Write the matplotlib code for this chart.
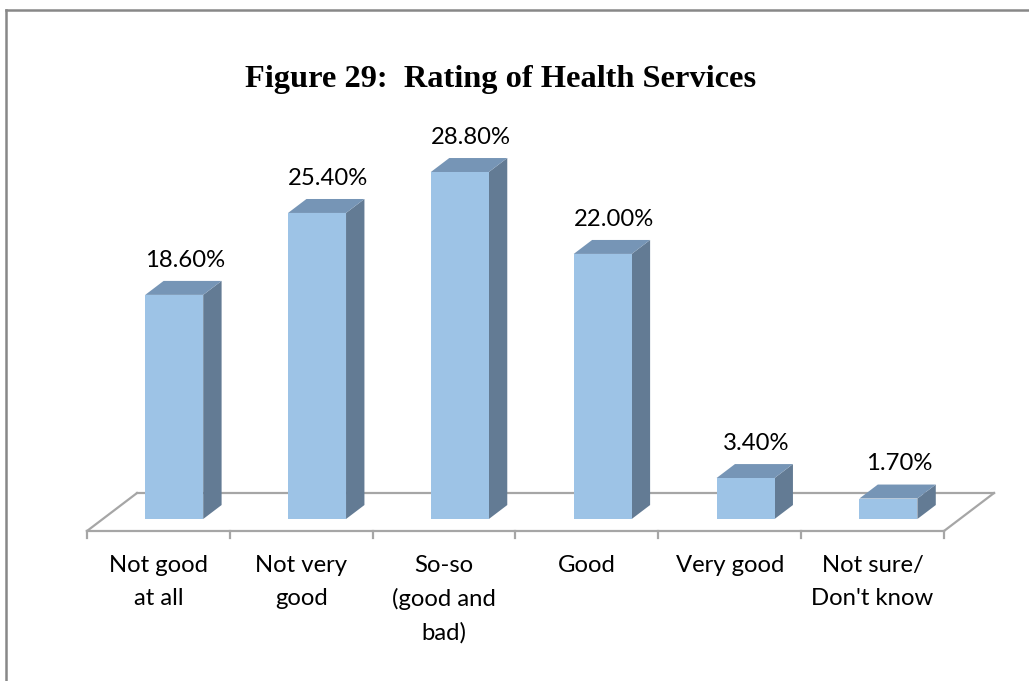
#Figure 29: Rating of Health Services
#3D style column chart drawn with flat matplotlib patches

import matplotlib.pyplot as plt                 #import lib matplotlib to graph
from matplotlib.patches import Polygon          #polygons for the bar faces
from matplotlib.lines import Line2D             #lines for the chart border

#Data
categories = ["Not good\nat all", "Not very\ngood", "So-so\n(good and\nbad)",
              "Good", "Very good", "Not sure/\nDon't know"]
values = [18.6, 25.4, 28.8, 22.0, 3.4, 1.7]     #percent
value_labels = ["18.60%", "25.40%", "28.80%", "22.00%", "3.40%", "1.70%"]
title = "Figure 29:  Rating of Health Services"

#Colours
front_col = "#9dc3e6"
top_col = "#7695b6"
side_col = "#637b94"
floor_col = "#a6a6a6"

#Geometry of the fake 3D view (in data units)
DX = 0.35       #horizontal shift of full floor depth (categories)
DY = 3.15       #vertical shift of full floor depth (percent)
zf = 0.316      #depth of bar front face
zb = 0.684      #depth of bar back face
w = 0.406       #bar width

fig = plt.figure(figsize=(10.29, 6.81), dpi=100)
ax = fig.add_axes([0, 0, 1, 1])
ax.set_xlim(-0.609, 6.595)
ax.set_ylim(-12.45, 44.07)
ax.axis("off")

n = len(values)

#Floor outline
ax.plot([0, n], [0, 0], color=floor_col, lw=1.6, zorder=1)
ax.plot([DX, n + DX], [DY, DY], color=floor_col, lw=1.6, zorder=1)
ax.plot([0, DX], [0, DY], color=floor_col, lw=1.6, zorder=1)
ax.plot([n, n + DX], [0, DY], color=floor_col, lw=1.6, zorder=1)

#Tick marks under the front edge
for i in range(n + 1):
    ax.plot([i, i], [0, -0.6], color=floor_col, lw=1.6, zorder=1)

#Bars
for i, v in enumerate(values):
    x0 = i + 0.5 - w / 2 + zf * DX     #front left corner
    y0 = zf * DY                        #front bottom
    sx = (zb - zf) * DX                 #depth shift x
    sy = (zb - zf) * DY                 #depth shift y
    front = Polygon([(x0, y0), (x0 + w, y0), (x0 + w, y0 + v), (x0, y0 + v)],
                    closed=True, fc=front_col, ec="none", zorder=3)
    side = Polygon([(x0 + w, y0), (x0 + w + sx, y0 + sy), (x0 + w + sx, y0 + sy + v),
                    (x0 + w, y0 + v)], closed=True, fc=side_col, ec="none", zorder=3)
    top = Polygon([(x0, y0 + v), (x0 + w, y0 + v), (x0 + w + sx, y0 + sy + v),
                   (x0 + sx, y0 + sy + v)], closed=True, fc=top_col, ec="none", zorder=3)
    ax.add_patch(side)
    ax.add_patch(top)
    ax.add_patch(front)
    #value label above the top face
    ax.annotate(value_labels[i], (x0 + w / 2 + 0.6 * sx, y0 + sy + v),
                xytext=(0, 7.5), textcoords="offset points",
                ha="center", va="bottom", fontsize=17.2, family="Lato", zorder=4)

#Category labels
for i, c in enumerate(categories):
    ax.annotate(c, (i + 0.5, 0), xytext=(0, -17.5), textcoords="offset points",
                ha="center", va="top", fontsize=17.2, family="Lato",
                linespacing=1.66)

#Title
fig.text(501 / 1029, 1 - 87 / 681, title, ha="center", va="baseline",
         fontsize=23.3, fontweight="bold", family="Liberation Serif")

#Chart border (top and left only, rest is cropped)
fig.add_artist(Line2D([6 / 1029, 6 / 1029], [0, 1 - 10 / 681], color="#888888", lw=1.8))
fig.add_artist(Line2D([6 / 1029, 1], [1 - 10 / 681, 1 - 10 / 681], color="#888888", lw=1.8))

plt.savefig("out.png", dpi=100)
